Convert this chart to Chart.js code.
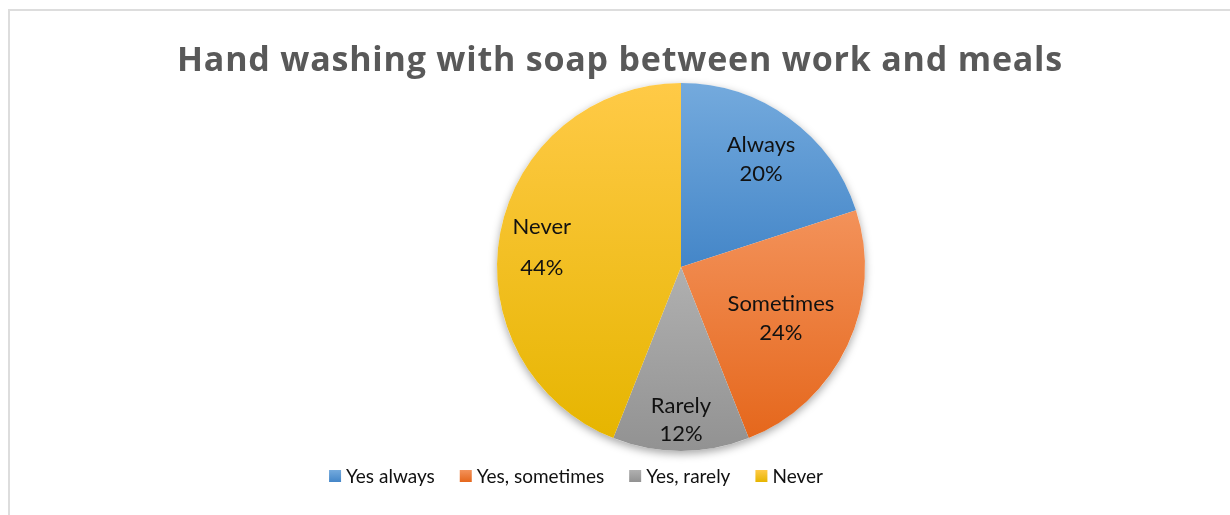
<!DOCTYPE html>
<html>
<head>
<meta charset="utf-8">
<script src="https://cdn.jsdelivr.net/npm/chart.js@4.4.1/dist/chart.umd.min.js"></script>
<style>
  html, body { margin: 0; padding: 0; background: #ffffff; overflow: hidden; }
  #wrap { position: relative; width: 1230px; height: 515px; }
  #frame { position: absolute; left: 8px; top: 9px; width: 1300px; height: 600px;
           border: 2px solid #dddddd; box-sizing: border-box; }
  #c { position: absolute; left: 0; top: 0; }
</style>
</head>
<body>
<div id="wrap">
  <div id="frame"></div>
  <canvas id="c" width="1230" height="515"></canvas>
</div>
<script>
// ---- data ----
const chartTitle = 'Hand washing with soap between work and meals';
const categories = ['Yes always', 'Yes, sometimes', 'Yes, rarely', 'Never'];
const sliceNames = ['Always', 'Sometimes', 'Rarely', 'Never'];
const percentages = [20, 24, 12, 44];

// ---- styling ----
const topColors    = ['#74aadd', '#f3925a', '#b0b0b0', '#ffca47'];
const bottomColors = ['#4486c8', '#e5671c', '#929292', '#e6b500'];
const labelRadius  = [0.74, 0.60, 0.82, 0.77];   // fraction of radius for slice labels
const labelShiftY  = [3, 4, 2, 7];
const labelLineGap = [29, 29, 28, 41];
const FONT = 'Lato, "Open Sans", sans-serif';
const TITLE_FONT = '"Open Sans", Lato, sans-serif';

// vertical extent of an arc, used for its top-to-bottom gradient
function arcYRange(el) {
  const p = el.getProps(['x', 'y', 'startAngle', 'endAngle', 'outerRadius'], true);
  const ys = [p.y, p.y + p.outerRadius * Math.sin(p.startAngle), p.y + p.outerRadius * Math.sin(p.endAngle)];
  const inArc = a => { let t = a; while (t < p.startAngle) t += 2 * Math.PI; return t <= p.endAngle; };
  if (inArc(-Math.PI / 2)) ys.push(p.y - p.outerRadius);
  if (inArc(Math.PI / 2)) ys.push(p.y + p.outerRadius);
  return [Math.min(...ys), Math.max(...ys)];
}

// soft drop shadow under the whole pie
const pieShadow = {
  id: 'pieShadow',
  beforeDatasetsDraw(chart) {
    const el = chart.getDatasetMeta(0).data[0];
    if (!el) return;
    const { ctx } = chart;
    ctx.save();
    ctx.shadowColor = 'rgba(0,0,0,0.35)';
    ctx.shadowBlur = 9;
    ctx.shadowOffsetY = 3;
    ctx.beginPath();
    ctx.arc(el.x, el.y, el.outerRadius, 0, Math.PI * 2);
    ctx.fillStyle = '#ffffff';
    ctx.fill();
    ctx.restore();
  }
};

// light-to-dark vertical gradient per slice
const sliceGradient = {
  id: 'sliceGradient',
  beforeDatasetsDraw(chart) {
    const { ctx } = chart;
    chart.getDatasetMeta(0).data.forEach((el, i) => {
      const [y0, y1] = arcYRange(el);
      const g = ctx.createLinearGradient(0, y0, 0, y1);
      g.addColorStop(0, topColors[i]);
      g.addColorStop(1, bottomColors[i]);
      el.options.backgroundColor = g;
    });
  }
};

// category name and percentage inside each slice
const sliceText = {
  id: 'sliceText',
  afterDatasetsDraw(chart) {
    const { ctx } = chart;
    ctx.save();
    ctx.fillStyle = '#111111';
    ctx.font = '22px ' + FONT;
    ctx.textAlign = 'center';
    ctx.textBaseline = 'middle';
    chart.getDatasetMeta(0).data.forEach((el, i) => {
      const p = el.getProps(['x', 'y', 'startAngle', 'endAngle', 'outerRadius'], true);
      const mid = (p.startAngle + p.endAngle) / 2;
      const r = p.outerRadius * labelRadius[i];
      const cx = p.x + r * Math.cos(mid);
      const cy = p.y + r * Math.sin(mid) + labelShiftY[i];
      const gap = labelLineGap[i];
      ctx.fillText(sliceNames[i], cx, cy - gap / 2);
      ctx.fillText(percentages[i] + '%', cx, cy + gap / 2);
    });
    ctx.restore();
  }
};

// title and legend row
const headerAndLegend = {
  id: 'headerAndLegend',
  afterDraw(chart) {
    const { ctx } = chart;
    ctx.save();
    ctx.fillStyle = '#595959';
    ctx.font = 'bold 34px ' + TITLE_FONT;
    ctx.letterSpacing = '0.8px';
    ctx.textAlign = 'center';
    ctx.textBaseline = 'alphabetic';
    ctx.fillText(chartTitle, 620, 71);
    ctx.letterSpacing = '0px';

    ctx.font = '19px ' + FONT;
    const box = 12, boxGap = 5, itemGap = 25;
    const widths = categories.map(t => ctx.measureText(t).width);
    const total = widths.reduce((s, w) => s + box + boxGap + w, 0) + itemGap * (categories.length - 1);
    let x = 576 - total / 2;
    ctx.textAlign = 'left';
    categories.forEach((t, i) => {
      const g = ctx.createLinearGradient(0, 470, 0, 482);
      g.addColorStop(0, topColors[i]);
      g.addColorStop(1, bottomColors[i]);
      ctx.fillStyle = g;
      ctx.fillRect(x, 470, box, box);
      ctx.fillStyle = '#111111';
      ctx.fillText(t, x + box + boxGap, 483);
      x += box + boxGap + widths[i] + itemGap;
    });
    ctx.restore();
  }
};

new Chart(document.getElementById('c'), {
  type: 'pie',
  data: {
    labels: categories,
    datasets: [{
      data: percentages,
      backgroundColor: topColors,
      borderWidth: 0
    }]
  },
  options: {
    responsive: false,
    devicePixelRatio: 1,
    animation: false,
    layout: { padding: { left: 132, right: 0, top: 83, bottom: 64 } },
    plugins: {
      legend: { display: false },
      title: { display: false },
      tooltip: { enabled: false }
    }
  },
  plugins: [pieShadow, sliceGradient, sliceText, headerAndLegend]
});
</script>
</body>
</html>
